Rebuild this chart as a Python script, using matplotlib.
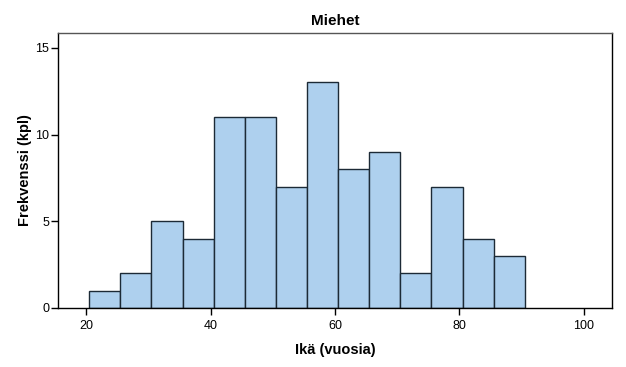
import numpy as np
import matplotlib
matplotlib.use("Agg")
import matplotlib.pyplot as plt

# histogram bins (age, years) and counts
bin_edges = [20.5, 25.5, 30.5, 35.5, 40.5, 45.5, 50.5, 55.5, 60.5, 65.5, 70.5, 75.5, 80.5, 85.5, 90.5]
counts = [1, 2, 5, 4, 11, 11, 7, 13, 8, 9, 2, 7, 4, 3]
x_ticks = [20, 40, 60, 80, 100]
y_ticks = [0, 5, 10, 15]

plt.rcParams["font.family"] = ["Liberation Sans", "DejaVu Sans"]

fig = plt.figure(figsize=(6.26, 3.67), dpi=100)
ax = fig.add_axes([0.0927, 0.1608, 0.8849, 0.7492])

edges = np.array(bin_edges)
ax.bar(edges[:-1], counts, width=np.diff(edges), align="edge",
       color="#aed0ee", edgecolor="#1c2a36", linewidth=1.0)

ax.set_xlim(15.5, 104.5)
ax.set_ylim(0, 15.85)
ax.set_xticks(x_ticks)
ax.set_yticks(y_ticks)
ax.tick_params(direction="out", length=5, width=1, labelsize=9, colors="black")
ax.tick_params(axis="y", pad=1.5)
for s in ax.spines.values():
    s.set_linewidth(1)
    s.set_color("black")
ax.spines["top"].set_color("#555555")

ax.set_title("Miehet", fontsize=11, fontweight="bold", pad=6)
ax.set_xlabel("Ikä (vuosia)", fontsize=10.5, fontweight="bold", labelpad=8)
ax.set_ylabel("Frekvenssi (kpl)", fontsize=10.5, fontweight="bold", labelpad=2)

fig.savefig("out.png", dpi=100)
